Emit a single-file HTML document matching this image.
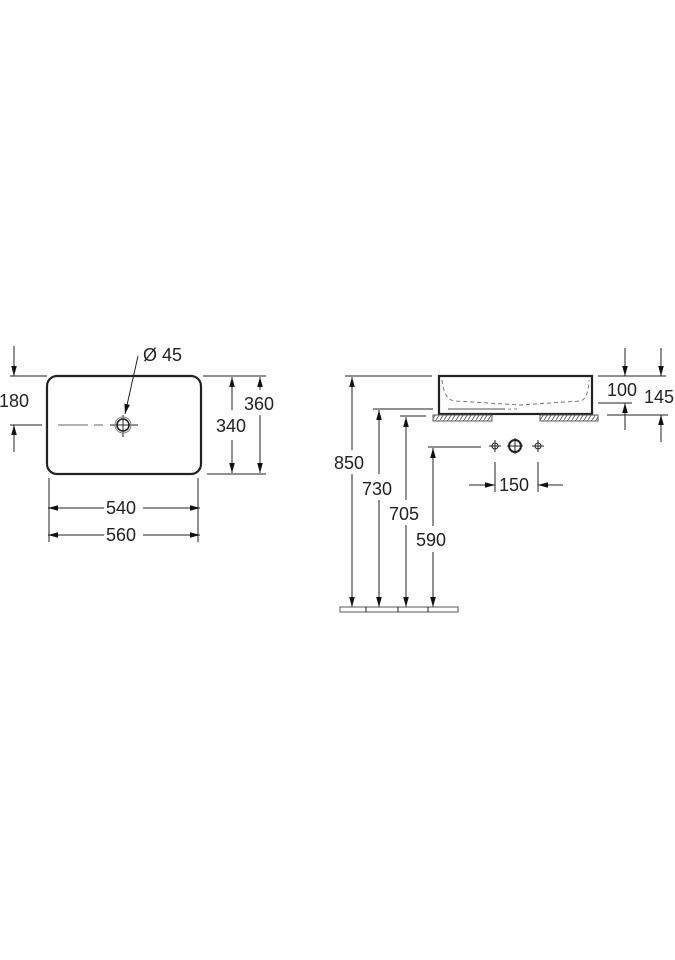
<!DOCTYPE html>
<html><head><style>
html,body{margin:0;padding:0;background:#fff;}
svg{display:block;}
text{font-family:"Liberation Sans",Arial,sans-serif;font-size:18px;fill:#222;}
</style></head><body>
<svg width="675" height="960" viewBox="0 0 675 960" xmlns="http://www.w3.org/2000/svg">
<defs>
<marker id="a" viewBox="0 0 10 10" refX="10" refY="5" markerWidth="10" markerHeight="10" orient="auto-start-reverse" markerUnits="userSpaceOnUse"><path d="M0,2.2 L10,5 L0,7.8 z" fill="#111"/></marker>
<pattern id="h" width="4" height="6" patternUnits="userSpaceOnUse"><rect width="4" height="6" fill="#fff"/><path d="M0,6 L4,0" stroke="#555" stroke-width="0.8"/></pattern>
</defs>
<g stroke="#222" stroke-width="1" fill="none">
<rect x="47" y="376" width="154" height="98" rx="10" stroke-width="2.2"/>
<line x1="58" y1="425" x2="103" y2="425" stroke-dasharray="30,6" stroke="#666"/>
<line x1="110" y1="425" x2="138" y2="425"/>
<line x1="123" y1="415" x2="123" y2="437"/>
<circle cx="123" cy="425" r="6" stroke-width="1.6"/>
<circle cx="123" cy="425" r="8" stroke="#888"/>
<line x1="138" y1="356" x2="125" y2="414" marker-end="url(#a)"/>
<line x1="10" y1="376" x2="47" y2="376"/>
<line x1="10" y1="425" x2="42" y2="425"/>
<line x1="14" y1="346" x2="14" y2="376" marker-end="url(#a)"/>
<line x1="14" y1="452" x2="14" y2="425" marker-end="url(#a)"/>
<line x1="203" y1="376" x2="266" y2="376"/>
<line x1="207" y1="474" x2="266" y2="474"/>
<line x1="232" y1="410" x2="232" y2="377" marker-end="url(#a)"/>
<line x1="232" y1="440" x2="232" y2="473" marker-end="url(#a)"/>
<line x1="260" y1="390" x2="260" y2="377" marker-end="url(#a)"/>
<line x1="260" y1="415" x2="260" y2="473" marker-end="url(#a)"/>
<line x1="49" y1="478" x2="49" y2="542"/>
<line x1="198" y1="478" x2="198" y2="542"/>
<line x1="48" y1="508" x2="104" y2="508" marker-start="url(#a)"/>
<line x1="143" y1="508" x2="200" y2="508" marker-end="url(#a)"/>
<line x1="48" y1="535" x2="104" y2="535" marker-start="url(#a)"/>
<line x1="143" y1="535" x2="200" y2="535" marker-end="url(#a)"/>
<rect x="439" y="376" width="153" height="38" stroke-width="2.2"/>
<path d="M442,380 Q444,400 455,401 L520,405 L580,401 Q588,400 589,380" stroke="#777" stroke-dasharray="4,3"/>
<line x1="448" y1="409" x2="505" y2="409" stroke="#888" stroke-width="1.5"/>
<line x1="508" y1="409" x2="520" y2="409" stroke="#888" stroke-dasharray="3,3"/>
<rect x="433" y="415" width="59" height="6" fill="url(#h)" stroke="#555"/>
<rect x="540" y="415" width="58" height="6" fill="url(#h)" stroke="#555"/>
<line x1="345" y1="376" x2="432" y2="376"/>
<line x1="373" y1="409" x2="433" y2="409"/>
<line x1="400" y1="416" x2="426" y2="416"/>
<line x1="428" y1="447" x2="481" y2="447"/>
<line x1="352" y1="450" x2="352" y2="377" marker-end="url(#a)"/>
<line x1="352" y1="474" x2="352" y2="607" marker-end="url(#a)"/>
<line x1="379" y1="474" x2="379" y2="410" marker-end="url(#a)"/>
<line x1="379" y1="500" x2="379" y2="607" marker-end="url(#a)"/>
<line x1="406" y1="500" x2="406" y2="417" marker-end="url(#a)"/>
<line x1="406" y1="525" x2="406" y2="607" marker-end="url(#a)"/>
<line x1="433" y1="526" x2="433" y2="448" marker-end="url(#a)"/>
<line x1="433" y1="552" x2="433" y2="607" marker-end="url(#a)"/>
<rect x="340" y="607" width="118" height="5" stroke="#555"/>
<line x1="366" y1="607" x2="366" y2="612"/><line x1="398" y1="607" x2="398" y2="612"/><line x1="428" y1="607" x2="428" y2="612"/>
<line x1="598" y1="376" x2="666" y2="376"/>
<line x1="598" y1="403" x2="632" y2="403"/>
<line x1="607" y1="415" x2="668" y2="415"/>
<line x1="625" y1="348" x2="625" y2="376" marker-end="url(#a)"/>
<line x1="625" y1="430" x2="625" y2="403" marker-end="url(#a)"/>
<line x1="661" y1="348" x2="661" y2="376" marker-end="url(#a)"/>
<line x1="661" y1="442" x2="661" y2="415" marker-end="url(#a)"/>
<circle cx="515" cy="446" r="6" stroke-width="2"/>
<line x1="507" y1="446" x2="523" y2="446"/><line x1="515" y1="438" x2="515" y2="454"/>
<circle cx="495" cy="446" r="3"/><line x1="489" y1="446" x2="501" y2="446"/><line x1="495" y1="440" x2="495" y2="452"/>
<circle cx="538" cy="446" r="3"/><line x1="532" y1="446" x2="544" y2="446"/><line x1="538" y1="440" x2="538" y2="452"/>
<line x1="495" y1="462" x2="495" y2="492"/>
<line x1="538" y1="462" x2="538" y2="492"/>
<line x1="469" y1="485" x2="495" y2="485" marker-end="url(#a)"/>
<line x1="563" y1="485" x2="538" y2="485" marker-end="url(#a)"/>
</g>
<text x="143" y="361">Ø 45</text>
<text x="-1" y="407">180</text>
<text x="216" y="432">340</text>
<text x="244" y="410">360</text>
<text x="106" y="514">540</text>
<text x="106" y="541">560</text>
<text x="334" y="469">850</text>
<text x="362" y="495">730</text>
<text x="389" y="520">705</text>
<text x="416" y="546">590</text>
<text x="607" y="396">100</text>
<text x="644" y="403">145</text>
<text x="499" y="491">150</text>
</svg>
</body></html>
